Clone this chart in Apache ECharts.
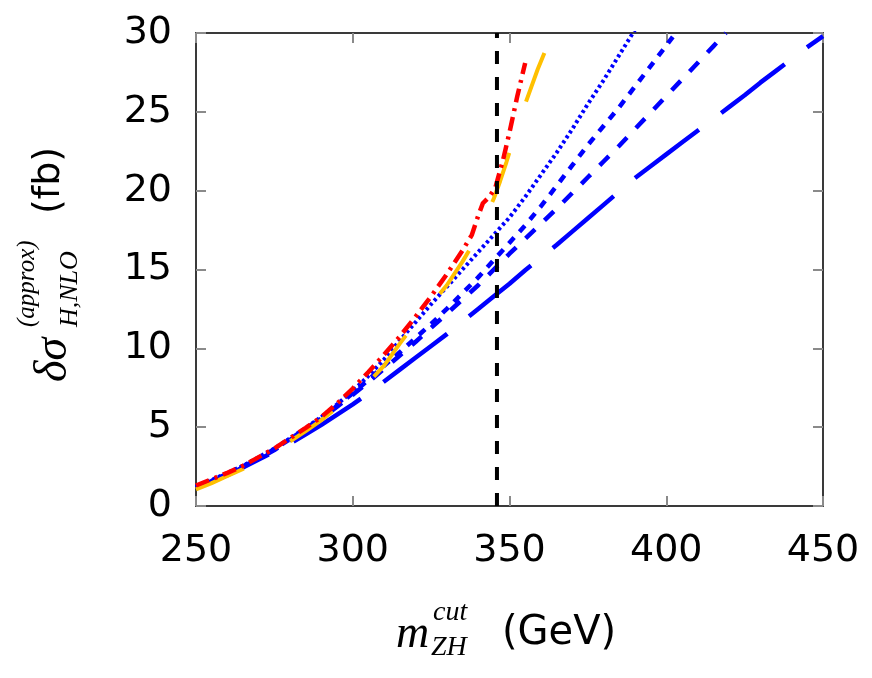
<!DOCTYPE html>
<html>
<head>
<meta charset="utf-8">
<script src="https://cdn.jsdelivr.net/npm/echarts@6/dist/echarts.min.js"></script>
<style>
html,body{margin:0;padding:0;background:#fff;}
#chart{width:872px;height:678px;}
</style>
</head>
<body>
<div id="chart"></div>
<script>
// ---- data ----
const xTicks = [250, 300, 350, 400, 450];
const yTicks = [0, 5, 10, 15, 20, 25, 30];
const thresholdX = 346;

const xRed = [250,255,260,265,270,275,280,285,290,295,300,305,310,315,320,325,330,335,338,340,341.5,343.5,345.5,348,350,352.5,355];
const yRed = [1.3,1.7,2.1,2.55,3.1,3.65,4.3,4.95,5.65,6.5,7.45,8.5,9.6,10.75,12.0,13.3,14.7,16.2,17.2,18.4,19.2,19.6,20.2,22.0,23.7,26.0,28.1];

const xOrange = [250,255,260,265,270,275,280,285,290,295,300,305,310,315,320,325,330,335,338,341,343,345,347,349,351,353,355,357,359,362.5];
const yOrange = [1.05,1.45,1.9,2.35,2.9,3.45,4.1,4.75,5.45,6.25,7.05,7.85,8.9,10.3,11.6,12.8,14.0,15.5,16.5,17.7,18.6,19.5,20.6,21.8,23.1,24.3,25.5,26.6,27.7,29.4];

const xDotted = [250,255,260,265,270,275,280,285,290,295,300,305,310,315,320,325,330,335,340,345,350,355,360,365,370,375,380,385,390];
const yDotted = [1.25,1.65,2.1,2.55,3.1,3.65,4.3,4.95,5.65,6.45,7.3,8.25,9.3,10.5,11.65,12.8,13.9,15.0,16.1,17.2,18.3,19.6,21.0,22.4,23.9,25.5,27.0,28.6,30.2];

const xShort = [250,255,260,265,270,275,280,285,290,295,300,305,310,315,320,325,330,335,340,345,350,355,360,365,370,375,380,385,390,395,400,403];
const yShort = [1.2,1.6,2.05,2.5,3.05,3.6,4.25,4.9,5.6,6.35,7.15,8.0,8.9,9.75,10.65,11.55,12.5,13.5,14.5,15.6,16.7,17.8,19.0,20.3,21.6,22.9,24.1,25.3,26.6,27.9,29.2,30.0];

const xMedium = [250,255,260,265,270,275,280,285,290,295,300,305,310,315,320,325,330,335,340,345,350,355,360,365,370,375,380,385,390,395,400,405,410,415,419];
const yMedium = [1.2,1.6,2.05,2.5,3.0,3.55,4.2,4.85,5.55,6.3,7.05,7.85,8.7,9.55,10.4,11.3,12.2,13.1,14.0,15.0,16.0,16.95,17.9,18.85,19.85,20.85,21.85,22.85,23.9,24.95,26.0,27.05,28.1,29.15,30.0];

const xLong = [250,255,260,265,270,275,280,285,290,295,300,305,310,315,320,325,330,335,340,345,350,355,360,365,370,375,380,385,390,395,400,405,410,415,420,425,430,435,440,445,450];
const yLong = [1.15,1.55,1.95,2.45,2.95,3.45,3.95,4.55,5.15,5.8,6.45,7.15,7.9,8.65,9.4,10.15,10.9,11.7,12.5,13.3,14.1,14.95,15.75,16.55,17.4,18.25,19.1,19.95,20.8,21.55,22.3,23.05,23.8,24.55,25.3,26.05,26.85,27.6,28.35,29.1,29.8];

function pairs(xs, ys){ return xs.map((x,i)=>[x, ys[i]]); }

const chart = echarts.init(document.getElementById('chart'), null, {renderer:'canvas'});

const boxLine = {show:true, onZero:false, lineStyle:{color:'#3a3a3a', width:2}};
const tick = {show:true, inside:true, length:10, lineStyle:{color:'#8a8a8a', width:2}};

function lineSeries(name, data, color, width, dash, z){
  return {
    name, type:'line', data, showSymbol:false, symbol:'none', smooth:false, clip:true,
    xAxisIndex:0, yAxisIndex:0, z:z,
    lineStyle:{color, width, type:dash, cap:'butt', join:'round'},
    emphasis:{disabled:true}, silent:true, animation:false
  };
}

const option = {
  animation:false,
  backgroundColor:'#fff',
  grid:{left:196, top:33, right:49, bottom:172, containLabel:false},
  xAxis:[
    {type:'value', min:xTicks[0], max:xTicks[xTicks.length-1], interval:50, position:'bottom',
     axisLine:boxLine, axisTick:tick, splitLine:{show:false},
     axisLabel:{fontSize:38, fontFamily:'DejaVu Sans', color:'#000', margin:26}},
    {type:'value', min:xTicks[0], max:xTicks[xTicks.length-1], interval:50, position:'top',
     axisLine:boxLine, axisTick:tick, splitLine:{show:false}, axisLabel:{show:false}}
  ],
  yAxis:[
    {type:'value', min:yTicks[0], max:yTicks[yTicks.length-1], interval:5, position:'left',
     axisLine:boxLine, axisTick:tick, splitLine:{show:false},
     axisLabel:{fontSize:38, fontFamily:'DejaVu Sans', color:'#000', margin:24}},
    {type:'value', min:yTicks[0], max:yTicks[yTicks.length-1], interval:5, position:'right',
     axisLine:boxLine, axisTick:tick, splitLine:{show:false}, axisLabel:{show:false}}
  ],
  series:[
    lineSeries('long', pairs(xLong,yLong), '#0000ff', 4.5, [80,28], 2),
    lineSeries('medium', pairs(xMedium,yMedium), '#0000ff', 4.5, [13,13], 3),
    lineSeries('short', pairs(xShort,yShort), '#0000ff', 4.5, [8,8], 4),
    lineSeries('dotted', pairs(xDotted,yDotted), '#0000ff', 4, [3,3], 5),
    lineSeries('orange', pairs(xOrange,yOrange), '#ffc000', 4, [52,54], 6),
    lineSeries('red', pairs(xRed,yRed), '#ff0000', 4.5, [14,6,3,6], 7),
    lineSeries('threshold', [[thresholdX, yTicks[0]],[thresholdX, yTicks[yTicks.length-1]]], '#000000', 4, [13,13], 8)
  ],
  graphic:[
    // x-axis title: m_{ZH}^{cut} (GeV)
    {type:'text', left:396, top:612, style:{text:'m', font:'italic 46px "Liberation Serif"', fill:'#000'}},
    {type:'text', left:433, top:599, style:{text:'cut', font:'italic 28px "Liberation Serif"', fill:'#000'}},
    {type:'text', left:431, top:634, style:{text:'ZH', font:'italic 28px "Liberation Serif"', fill:'#000'}},
    {type:'text', left:502, top:614, style:{text:'(GeV)', font:'40px "DejaVu Sans"', fill:'#000'}},
    // y-axis title, rotated
    {type:'group', x:0, y:0, children:[
      {type:'text', x:77, y:382, rotation:Math.PI/2, style:{text:'δσ', font:'italic 46px "Liberation Serif"', fill:'#000', verticalAlign:'bottom', align:'left'}},
      {type:'text', x:83, y:327, rotation:Math.PI/2, style:{text:'H,NLO', font:'italic 26px "Liberation Serif"', fill:'#000', verticalAlign:'bottom', align:'left'}},
      {type:'text', x:40, y:327, rotation:Math.PI/2, style:{text:'(approx)', font:'italic 25px "Liberation Serif"', fill:'#000', verticalAlign:'bottom', align:'left'}},
      {type:'text', x:68, y:214, rotation:Math.PI/2, style:{text:'(fb)', font:'38px "DejaVu Sans"', fill:'#000', verticalAlign:'bottom', align:'left'}}
    ]}
  ]
};
chart.setOption(option);
</script>
</body>
</html>
